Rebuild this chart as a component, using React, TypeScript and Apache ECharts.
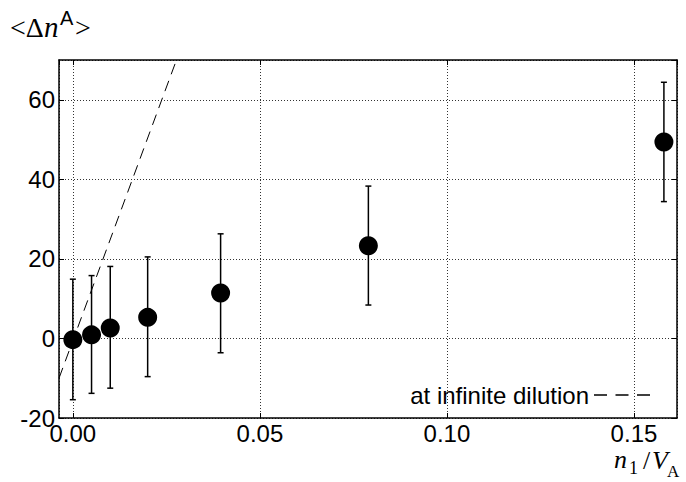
import { useEffect, useRef } from "react";
import * as echarts from "echarts";

// ---- data ----
const xValues = [0, 0.005, 0.01, 0.02, 0.0395, 0.079, 0.158];
const yValues = [-0.3, 0.9, 2.6, 5.3, 11.4, 23.3, 49.4];
const errLow = [-15.4, -13.8, -12.5, -9.6, -3.6, 8.4, 34.4];
const errHigh = [14.9, 15.8, 18.1, 20.5, 26.3, 38.3, 64.4];
const dilutionX = [-0.0037, 0.0277];
const dilutionY = [-10, 70];
const legendLabel = "at infinite dilution";
const xRange = [-0.0037, 0.1615];
const yRange = [-20, 70];
const yTickStep = 20;

const sans = '"Liberation Sans", Arial, sans-serif';
const serif = '"Liberation Serif", "Times New Roman", serif';

function txt(x: number, y: number, text: string, font: string, lineHeight: number) {
  return {
    type: "text",
    x,
    y,
    silent: true,
    style: { text, font, lineHeight, fill: "#000", textAlign: "left", textVerticalAlign: "middle" },
  };
}

export default function App() {
  const ref = useRef<HTMLDivElement>(null);
  useEffect(() => {
    document.body.style.margin = "0";
    const chart = echarts.init(ref.current!, null, { renderer: "svg" });
    const axisLine = { show: true, onZero: false, lineStyle: { color: "#000", width: 1.5 } };
    const axisTick = { show: true, inside: true, length: 5, lineStyle: { color: "#000", width: 1 } };
    const splitLine = { show: true, lineStyle: { type: [1, 2], color: "#333", width: 1 } };
    const labelStyle = { fontSize: 24, color: "#000", fontFamily: sans };
    const option: any = {
      animation: false,
      grid: { left: 59, right: 9, top: 60, bottom: 64, show: false },
      legend: {
        data: [{ name: legendLabel, icon: "path://M0,0h13v1.5h-13z M21.5,0h13v1.5h-13z M43,0h13v1.5h-13z" }],
        right: 31,
        top: 378,
        align: "right",
        itemWidth: 56,
        itemHeight: 1.5,
        selectedMode: false,
        textStyle: labelStyle,
        itemStyle: { color: "#000", borderWidth: 0 },
      },
      xAxis: [
        {
          type: "value",
          min: xRange[0],
          max: xRange[1],
          splitNumber: 3,
          position: "bottom",
          axisLine,
          axisTick,
          splitLine,
          axisLabel: {
            ...labelStyle,
            margin: 3,
            showMinLabel: false,
            showMaxLabel: false,
            formatter: (v: number) => v.toFixed(2),
          },
        },
        {
          type: "value",
          min: xRange[0],
          max: xRange[1],
          splitNumber: 3,
          position: "top",
          axisLine,
          axisTick,
          splitLine: { show: false },
          axisLabel: { show: false },
        },
      ],
      yAxis: [
        {
          type: "value",
          min: yRange[0],
          max: yRange[1],
          interval: yTickStep,
          position: "left",
          axisLine,
          axisTick,
          splitLine,
          axisLabel: { ...labelStyle, margin: 4, showMaxLabel: false },
        },
        {
          type: "value",
          min: yRange[0],
          max: yRange[1],
          interval: yTickStep,
          position: "right",
          axisLine,
          axisTick,
          splitLine: { show: false },
          axisLabel: { show: false },
        },
      ],
      series: [
        {
          name: legendLabel,
          type: "line",
          data: dilutionX.map((x, i) => [x, dilutionY[i]]),
          symbol: "none",
          clip: true,
          silent: true,
          lineStyle: { color: "#000", width: 1, type: [11, 7] },
          itemStyle: { color: "#000" },
          z: 1,
        },
        {
          type: "custom",
          data: xValues.map((x, i) => [x, errLow[i], errHigh[i]]),
          encode: { x: 0, y: [1, 2] },
          silent: true,
          z: 2,
          renderItem: (_params: any, api: any) => {
            const x = api.value(0);
            const lo = api.coord([x, api.value(1)]);
            const hi = api.coord([x, api.value(2)]);
            const cap = 3;
            const style = { stroke: "#000", lineWidth: 1.5 };
            return {
              type: "group",
              children: [
                { type: "line", shape: { x1: lo[0], y1: lo[1], x2: hi[0], y2: hi[1] }, style },
                { type: "line", shape: { x1: lo[0] - cap, y1: lo[1], x2: lo[0] + cap, y2: lo[1] }, style },
                { type: "line", shape: { x1: hi[0] - cap, y1: hi[1], x2: hi[0] + cap, y2: hi[1] }, style },
              ],
            };
          },
        },
        {
          type: "scatter",
          data: xValues.map((x, i) => [x, yValues[i]]),
          symbol: "circle",
          symbolSize: 19,
          itemStyle: { color: "#000", opacity: 1 },
          silent: true,
          z: 3,
        },
      ],
      graphic: [
        // y-axis title  <Δn^A>
        txt(10, 27, "<Δ", `28px ${serif}`, 24),
        txt(44, 27, "n", `italic 29px ${serif}`, 24),
        txt(60, 18, "A", `20px ${sans}`, 18),
        txt(75, 27, ">", `28px ${serif}`, 24),
        // x-axis title  n1 / VA
        txt(614, 459, "n", `italic 26px ${serif}`, 16),
        txt(629, 468, "1", `18px ${serif}`, 14),
        txt(643, 460, "/", `26px ${serif}`, 16),
        txt(652, 460, "V", `italic 26px ${serif}`, 16),
        txt(667, 471, "A", `17px ${serif}`, 14),
      ],
    };
    chart.setOption(option);
    return () => chart.dispose();
  }, []);
  return <div ref={ref} style={{ width: 686, height: 482 }} />;
}
